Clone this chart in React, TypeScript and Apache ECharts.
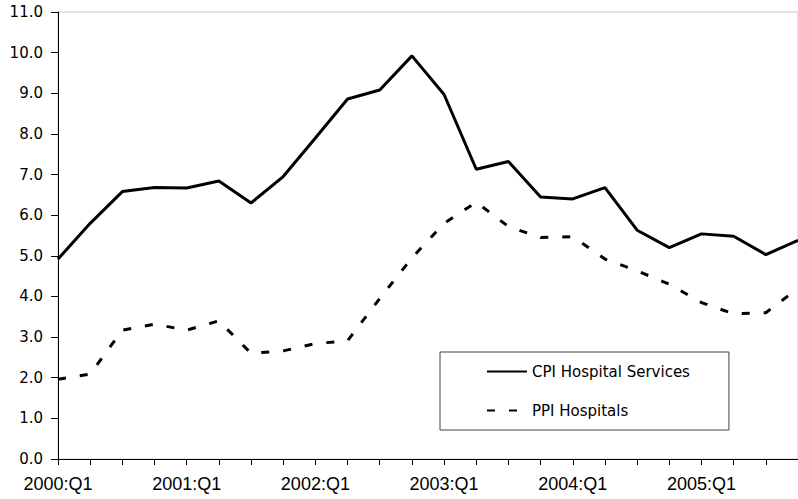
import React, { useEffect, useRef } from "react";
import * as echarts from "echarts";

const quarters: string[] = [
  "2000:Q1", "2000:Q2", "2000:Q3", "2000:Q4",
  "2001:Q1", "2001:Q2", "2001:Q3", "2001:Q4",
  "2002:Q1", "2002:Q2", "2002:Q3", "2002:Q4",
  "2003:Q1", "2003:Q2", "2003:Q3", "2003:Q4",
  "2004:Q1", "2004:Q2", "2004:Q3", "2004:Q4",
  "2005:Q1", "2005:Q2", "2005:Q3", "2005:Q4",
];

const cpiHospitalServices: number[] = [
  4.92, 5.8, 6.58, 6.68, 6.67, 6.84, 6.3, 6.95,
  7.9, 8.86, 9.08, 9.92, 8.97, 7.13, 7.32, 6.45,
  6.4, 6.68, 5.63, 5.2, 5.54, 5.48, 5.03, 5.38,
];

const ppiHospitals: number[] = [
  1.96, 2.09, 3.17, 3.32, 3.17, 3.4, 2.6, 2.66,
  2.84, 2.91, 3.95, 4.95, 5.8, 6.32, 5.72, 5.45,
  5.47, 4.92, 4.63, 4.3, 3.85, 3.57, 3.6, 4.2,
];

const seriesNames: string[] = ["CPI Hospital Services", "PPI Hospitals"];

export default function App() {
  const ref = useRef<HTMLDivElement>(null);

  useEffect(() => {
    if (!ref.current) return;
    const chart = echarts.init(ref.current, null, { renderer: "svg" });
    chart.setOption({
      animation: false,
      backgroundColor: "#ffffff",
      grid: {
        left: 58,
        top: 12,
        right: -5,
        bottom: 40,
        show: true,
        borderColor: "#c8c8c8",
        borderWidth: 1,
        backgroundColor: "transparent",
      },
      legend: {
        orient: "vertical",
        left: 440,
        top: 352,
        padding: [12, 39, 12, 46],
        itemGap: 24,
        itemWidth: 40,
        itemHeight: 14,
        borderColor: "#404040",
        borderWidth: 1,
        backgroundColor: "#ffffff",
        itemStyle: { opacity: 0, color: "transparent", borderWidth: 0 },
        textStyle: {
          fontFamily: "DejaVu Sans",
          fontSize: 15,
          lineHeight: 15,
          color: "#000",
        },
        data: seriesNames,
      },
      xAxis: {
        type: "category",
        data: quarters,
        boundaryGap: false,
        axisLine: { lineStyle: { color: "#000", width: 1 } },
        axisTick: {
          show: true,
          interval: 0,
          length: 6,
          lineStyle: { color: "#000" },
        },
        axisLabel: {
          interval: 3,
          margin: 16,
          color: "#000",
          fontFamily: "Liberation Sans",
          fontSize: 18,
        },
        splitLine: { show: false },
      },
      yAxis: {
        type: "value",
        min: 0,
        max: 11,
        interval: 1,
        axisLine: { show: true, lineStyle: { color: "#000", width: 1 } },
        axisTick: { show: true, length: 7, lineStyle: { color: "#000" } },
        axisLabel: {
          margin: 15,
          color: "#000",
          fontFamily: "DejaVu Sans",
          fontSize: 15,
          formatter: (v: number) => v.toFixed(1),
        },
        splitLine: { show: false },
      },
      series: [
        {
          name: seriesNames[0],
          type: "line",
          data: cpiHospitalServices,
          symbol: "none",
          showSymbol: false,
          lineStyle: { color: "#000", width: 3, type: "solid" },
          itemStyle: { color: "#000" },
        },
        {
          name: seriesNames[1],
          type: "line",
          data: ppiHospitals,
          symbol: "none",
          showSymbol: false,
          lineStyle: { color: "#000", width: 3, type: [8, 14], cap: "butt" },
          itemStyle: { color: "#000" },
        },
      ],
    });
    return () => chart.dispose();
  }, []);

  return (
    <div
      ref={ref}
      style={{ position: "fixed", left: 0, top: 0, width: 798, height: 499 }}
    />
  );
}
